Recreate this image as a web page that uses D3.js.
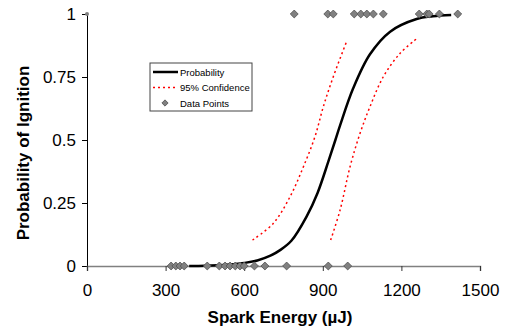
<!DOCTYPE html>
<html>
<head>
<meta charset="utf-8">
<script src="https://cdn.jsdelivr.net/npm/d3@7"></script>
<style>
  body { margin: 0; background: #fff; }
  text { font-family: "Liberation Sans", Arial, sans-serif; }
</style>
</head>
<body>
<script>
// ignition data points (energy in uJ, outcome 0/1)
var ignitedEnergy = [791, 919, 940, 1020, 1045, 1068, 1093, 1131, 1268, 1297, 1306, 1345, 1415];
var notIgnitedEnergy = [321, 339, 355, 371, 459, 505, 527, 546, 566, 584, 600, 639, 679, 762, 921, 995];

// fitted probability curve
var probEnergy = [390, 450, 500, 550, 600, 650, 700, 737, 780, 838, 880, 921, 948, 966, 1016, 1080, 1157, 1258, 1320, 1390];
var probValue  = [0, 0.001, 0.003, 0.006, 0.012, 0.022, 0.041, 0.063, 0.1, 0.196, 0.29, 0.414, 0.5, 0.558, 0.705, 0.84, 0.93, 0.98, 0.991, 0.996];

// 95% confidence bounds
var lowerEnergy = [632, 711, 775, 826, 870, 902, 940, 989];
var lowerValue  = [0.103, 0.169, 0.275, 0.394, 0.513, 0.632, 0.751, 0.886];
var upperEnergy = [930, 966, 1004, 1042, 1080, 1131, 1195, 1256];
var upperValue  = [0.103, 0.222, 0.394, 0.526, 0.632, 0.751, 0.844, 0.9];

var xTicks = [0, 300, 600, 900, 1200, 1500];
var yTicks = [0, 0.25, 0.5, 0.75, 1];

var width = 514, height = 329;

var svg = d3.select("body").append("svg")
    .attr("width", width)
    .attr("height", height);

var x = d3.scaleLinear().domain([0, 1500]).range([87, 480]);
var y = d3.scaleLinear().domain([0, 1]).range([266, 14]);

// y axis
var yAxis = svg.append("g")
    .attr("transform", "translate(87,0)")
    .call(d3.axisLeft(y).tickValues(yTicks).tickSize(5).tickPadding(6)
        .tickFormat(function(d) { return d; }));
yAxis.select(".domain").attr("stroke", "#000");
yAxis.selectAll(".tick line").attr("stroke", "#000");
yAxis.selectAll("text").attr("font-size", 17).attr("fill", "#000");

// x axis
var xAxis = svg.append("g")
    .attr("transform", "translate(0,266)")
    .call(d3.axisBottom(x).tickValues(xTicks).tickSize(5).tickPadding(13)
        .tickFormat(function(d) { return d; }));
xAxis.select(".domain").attr("stroke", "#808080").attr("stroke-width", 1.5);
xAxis.selectAll(".tick line").attr("stroke", "#333");
xAxis.selectAll("text").attr("font-size", 17).attr("fill", "#000");

// axis titles
svg.append("text")
    .attr("x", 280).attr("y", 323)
    .attr("text-anchor", "middle")
    .attr("font-size", 17).attr("font-weight", "bold")
    .text("Spark Energy (µJ)");

svg.append("text")
    .attr("transform", "translate(29,153) rotate(-90)")
    .attr("text-anchor", "middle")
    .attr("font-size", 17).attr("font-weight", "bold")
    .text("Probability of Ignition");

var line = d3.line()
    .x(function(d) { return x(d[0]); })
    .y(function(d) { return y(d[1]); })
    .curve(d3.curveCatmullRom);

// confidence bounds
[[lowerEnergy, lowerValue], [upperEnergy, upperValue]].forEach(function(s) {
    svg.append("path")
        .datum(d3.zip(s[0], s[1]))
        .attr("d", line)
        .attr("fill", "none")
        .attr("stroke", "#ff0000")
        .attr("stroke-width", 1.5)
        .attr("stroke-dasharray", "2,3");
});

// probability curve
svg.append("path")
    .datum(d3.zip(probEnergy, probValue))
    .attr("d", line)
    .attr("fill", "none")
    .attr("stroke", "#000")
    .attr("stroke-width", 2.5);

// data points
var diamond = d3.symbol().type(d3.symbolDiamond2).size(40);
var pts = ignitedEnergy.map(function(e) { return [e, 1]; })
    .concat(notIgnitedEnergy.map(function(e) { return [e, 0]; }));

svg.selectAll(".pt")
    .data(pts)
    .enter().append("path")
    .attr("class", "pt")
    .attr("transform", function(d) { return "translate(" + x(d[0]) + "," + y(d[1]) + ")"; })
    .attr("d", diamond)
    .attr("fill", "#808080")
    .attr("stroke", "#505050")
    .attr("stroke-width", 0.8);

// small marker at top of axis
svg.append("circle")
    .attr("cx", x(0)).attr("cy", y(1)).attr("r", 2)
    .attr("fill", "#808080");

// legend
var legend = svg.append("g").attr("transform", "translate(150,63)");
legend.append("rect")
    .attr("width", 102).attr("height", 48)
    .attr("fill", "#fff").attr("stroke", "#444").attr("stroke-width", 1);
var items = ["Probability", "95% Confidence", "Data Points"];
items.forEach(function(name, i) {
    var yy = 9 + i * 15.5;
    if (i === 0) {
        legend.append("line").attr("x1", 3).attr("x2", 28).attr("y1", yy).attr("y2", yy)
            .attr("stroke", "#000").attr("stroke-width", 2.5);
    } else if (i === 1) {
        legend.append("line").attr("x1", 3).attr("x2", 28).attr("y1", yy).attr("y2", yy)
            .attr("stroke", "#ff0000").attr("stroke-width", 1.5).attr("stroke-dasharray", "2,3");
    } else {
        legend.append("path").attr("transform", "translate(15," + yy + ")")
            .attr("d", d3.symbol().type(d3.symbolDiamond2).size(25))
            .attr("fill", "#808080").attr("stroke", "#505050").attr("stroke-width", 0.8);
    }
    legend.append("text")
        .attr("x", 30).attr("y", yy + 3.5)
        .attr("font-size", 9.5)
        .text(name);
});
</script>
</body>
</html>
